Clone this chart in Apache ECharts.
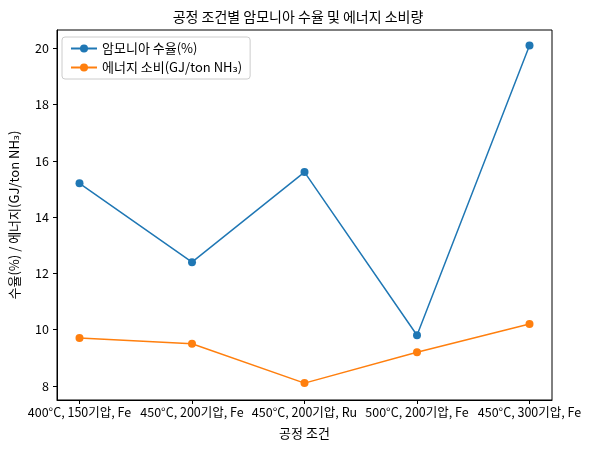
<!DOCTYPE html>
<html><head><meta charset="utf-8">
<script src="https://cdn.jsdelivr.net/npm/echarts@6/dist/echarts.min.js"></script>
<style>html,body{margin:0;padding:0;background:#fff}#c{width:596px;height:454px}</style>
</head><body><div id="c"></div>
<script>
const categories = ["400°C, 150기압, Fe","450°C, 200기압, Fe","450°C, 200기압, Ru","500°C, 200기압, Fe","450°C, 300기압, Fe"];
const yieldVals = [15.2, 12.4, 15.6, 9.8, 20.1];
const energyVals = [9.7, 9.5, 8.1, 9.2, 10.2];
const yTicks = [8, 10, 12, 14, 16, 18, 20];
const F = '"Noto Sans CJK KR", "DejaVu Sans", sans-serif';
const chart = echarts.init(document.getElementById('c'));
const xIdx = categories.map((_, i) => i);
chart.setOption({
  animation: false,
  textStyle: {fontFamily: F},
  title: {text: '공정 조건별 암모니아 수율 및 에너지 소비량', left: 'center', top: 5,
    textStyle: {fontFamily: F, fontSize: 14, fontWeight: 'normal', color: '#000'}},
  grid: {left: 55, right: 44, top: 30, bottom: 54, show: true, borderColor: '#000', borderWidth: 1},
  legend: {left: 62, top: 37, orient: 'vertical', itemGap: 6, padding: [5, 8],
    borderColor: '#ccc', borderWidth: 1, borderRadius: 3, backgroundColor: '#fff',
    itemWidth: 26, itemHeight: 10, textStyle: {fontFamily: F, fontSize: 13, color: '#000'}},
  xAxis: {type: 'value', min: -0.2, max: 4.2, name: '공정 조건', nameLocation: 'middle', nameGap: 27,
    nameTextStyle: {fontFamily: F, fontSize: 13, color: '#000'},
    splitLine: {show: false}, axisLine: {onZero: false, lineStyle: {color: '#000'}},
    axisTick: {customValues: xIdx, length: 4, lineStyle: {color: '#000'}},
    axisLabel: {customValues: xIdx, formatter: v => categories[Math.round(v)], color: '#000', fontSize: 12.5, fontFamily: F, margin: 6, hideOverlap: false}},
  yAxis: {type: 'value', min: 7.5, max: 20.65, name: '수율(%) / 에너지(GJ/ton NH₃)', nameLocation: 'middle', nameGap: 36,
    nameTextStyle: {fontFamily: F, fontSize: 13, color: '#000'},
    splitLine: {show: false}, axisLine: {show: true, onZero: false, lineStyle: {color: '#000'}},
    axisTick: {show: true, customValues: yTicks, length: 4, lineStyle: {color: '#000'}},
    axisLabel: {customValues: yTicks, color: '#000', fontSize: 12.5, fontFamily: F}},
  series: [
    {name: '암모니아 수율(%)', type: 'line', data: yieldVals.map((v, i) => [i, v]),
     symbol: 'circle', symbolSize: 8, color: '#1f77b4', lineStyle: {width: 1.5}},
    {name: '에너지 소비(GJ/ton NH₃)', type: 'line', data: energyVals.map((v, i) => [i, v]),
     symbol: 'circle', symbolSize: 8, color: '#ff7f0e', lineStyle: {width: 1.5}}
  ]
});
</script></body></html>
